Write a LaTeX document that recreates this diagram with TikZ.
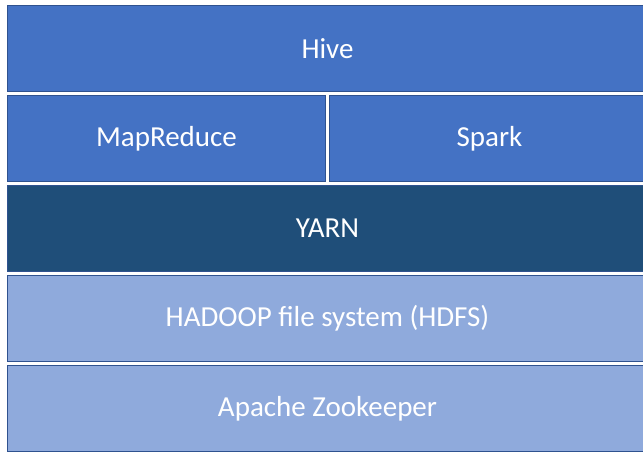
\documentclass[tikz,border=0pt]{standalone}
\usepackage{fontspec}
\setmainfont{Carlito}
\usepackage{tikz}
\usetikzlibrary{positioning}

\definecolor{layerblue}{HTML}{4472C4}
\definecolor{darkblue}{HTML}{1F4E79}
\definecolor{paleblue}{HTML}{8FAADC}
\definecolor{edgeblue}{HTML}{2F528F}

\begin{document}
\begin{tikzpicture}[
		node distance=3pt and 3pt,
		layer/.style={rectangle, draw=edgeblue, line width=1pt, minimum width=640pt, minimum height=86pt, inner sep=0pt, text=white, font=\fontsize{29}{34}\selectfont},
		halflayer/.style={layer, minimum width=318pt}
		]
		\useasboundingbox (0,0) rectangle (643pt,-451pt);
		
		% Top layer
		\node[layer, fill=layerblue, anchor=north west] (hive) at (7pt,-5pt) {Hive};
		
		% Two engines side by side
		\node[halflayer, fill=layerblue, below right=3pt and 0pt of hive.south west] (mapreduce) {MapReduce};
		\node[halflayer, fill=layerblue, minimum width=320pt, right=of mapreduce] (spark) {Spark};
		
		% Resource manager, storage and coordination
		\node[layer, fill=darkblue, below right=3pt and 0pt of mapreduce.south west] (yarn) {YARN};
		\node[layer, fill=paleblue, below=of yarn] (hdfs) {HADOOP file system (HDFS)};
		\node[layer, fill=paleblue, below=of hdfs] (zookeeper) {Apache Zookeeper};
		
	\end{tikzpicture}
\end{document}
